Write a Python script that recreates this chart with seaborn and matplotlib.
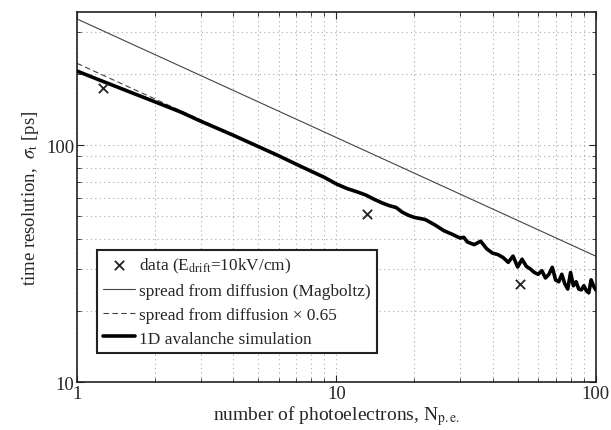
import numpy as np
import pandas as pd
import matplotlib
matplotlib.use("Agg")
import matplotlib.pyplot as plt
import seaborn as sns
from matplotlib.ticker import LogLocator, NullFormatter, FixedLocator, FixedFormatter

# measured time resolution
data_npe = [1.26, 13.1, 51.0]
data_sigma = [174.0, 51.0, 26.0]

# diffusion spread (Magboltz) and scaled version
diff_npe = [1.0, 100.0]
diff_sigma = [340.0, 34.0]
scaled_npe = [1.0, 2.0, 3.0, 4.0, 5.0]
scaled_sigma = [221.0, 156.3, 127.6, 110.5, 98.8]

# 1D avalanche simulation
sim_npe = [1, 1.25, 1.5, 2, 2.5, 3, 4, 5, 6, 7, 8, 9, 10, 11, 12, 13, 14, 15,
           16, 17, 18, 19, 20, 22, 24, 26, 28, 30, 31, 32, 34, 36, 38, 40, 42,
           44, 46, 48, 50, 52, 54, 56, 58, 60, 62, 64, 66, 68, 70, 72, 74, 76,
           78, 80, 82, 84, 86, 88, 90, 92, 94, 96, 98, 100]
sim_sigma = [205, 186, 172, 152, 138, 126, 110, 98.5, 90, 83, 77.5, 73, 68.5,
             65.5, 63.5, 61.5, 59, 57, 55.5, 54.5, 52, 50.5, 49.5, 48.5, 46,
             43.5, 42, 40.5, 40.8, 39.0, 38.0, 39.3, 36.5, 35.0, 34.5, 33.5,
             32.0, 34.0, 30.6, 33.0, 30.8, 30.0, 29.0, 28.5, 29.5, 27.5, 28.5,
             30.5, 27.0, 26.5, 28.5, 26.0, 24.7, 29.0, 25.5, 26.5, 24.7, 24.5,
             25.5, 24.3, 23.8, 27.0, 25.5, 24.5]

sns.set_style("ticks")
plt.rcParams["font.family"] = ["Liberation Serif", "DejaVu Serif"]
plt.rcParams["mathtext.fontset"] = "stix"

fig = plt.figure(figsize=(6.11, 4.31), dpi=100)
ax = fig.add_axes([0.126, 0.111, 0.849, 0.859])

sns.scatterplot(x=data_npe, y=data_sigma, marker="x", s=45, color="#222222",
                linewidth=1.3, ax=ax, label=r"data (E$_{\rm drift}$=10kV/cm)",
                zorder=5)
sns.lineplot(x=diff_npe, y=diff_sigma, color="#444444", linewidth=0.8, ax=ax,
             label="spread from diffusion (Magboltz)")
sns.lineplot(x=scaled_npe, y=scaled_sigma, color="#444444", linewidth=0.8,
             linestyle=(0, (5, 3)), ax=ax,
             label="spread from diffusion \u00d7 0.65")
sns.lineplot(x=sim_npe, y=sim_sigma, color="black", linewidth=2.6, ax=ax,
             label="1D avalanche simulation", estimator=None, sort=False,
             zorder=4)

ax.set_xscale("log")
ax.set_yscale("log")
ax.set_xlim(1, 100)
ax.set_ylim(10, 364)

ax.xaxis.set_major_locator(FixedLocator([1, 10, 100]))
ax.xaxis.set_major_formatter(FixedFormatter(["1", "10", "100"]))
ax.yaxis.set_major_locator(FixedLocator([10, 100]))
ax.yaxis.set_major_formatter(FixedFormatter(["10", "100"]))
ax.xaxis.set_minor_locator(LogLocator(base=10, subs=np.arange(2, 10)))
ax.yaxis.set_minor_locator(LogLocator(base=10, subs=np.arange(2, 10)))
ax.xaxis.set_minor_formatter(NullFormatter())
ax.yaxis.set_minor_formatter(NullFormatter())

ax.grid(True, which="both", linestyle=(0, (1, 3)), color="#aaaaaa",
        linewidth=0.8)
ax.tick_params(which="both", direction="in", top=True, right=True,
               labelsize=13.5, pad=2)
ax.tick_params(which="major", length=5, width=0.8)
ax.tick_params(which="minor", length=3, width=0.6)
for s in ax.spines.values():
    s.set_linewidth(1.2)
    s.set_color("#222222")

ax.set_xlabel(r"number of photoelectrons, N$_{\rm p.e.}$", fontsize=14,
              labelpad=1)
ax.set_ylabel(r"time resolution,  $\sigma_{\rm t}$ [ps]", fontsize=13.5,
              labelpad=4)

leg = ax.legend(loc="lower left", bbox_to_anchor=(0.038, 0.080),
                fontsize=12.4, frameon=True, fancybox=False, framealpha=1,
                edgecolor="#222222", handlelength=1.9, handletextpad=0.2,
                borderpad=0.35, labelspacing=0.45, borderaxespad=0)
leg.get_frame().set_linewidth(1.5)

fig.savefig("out.png", dpi=100)
